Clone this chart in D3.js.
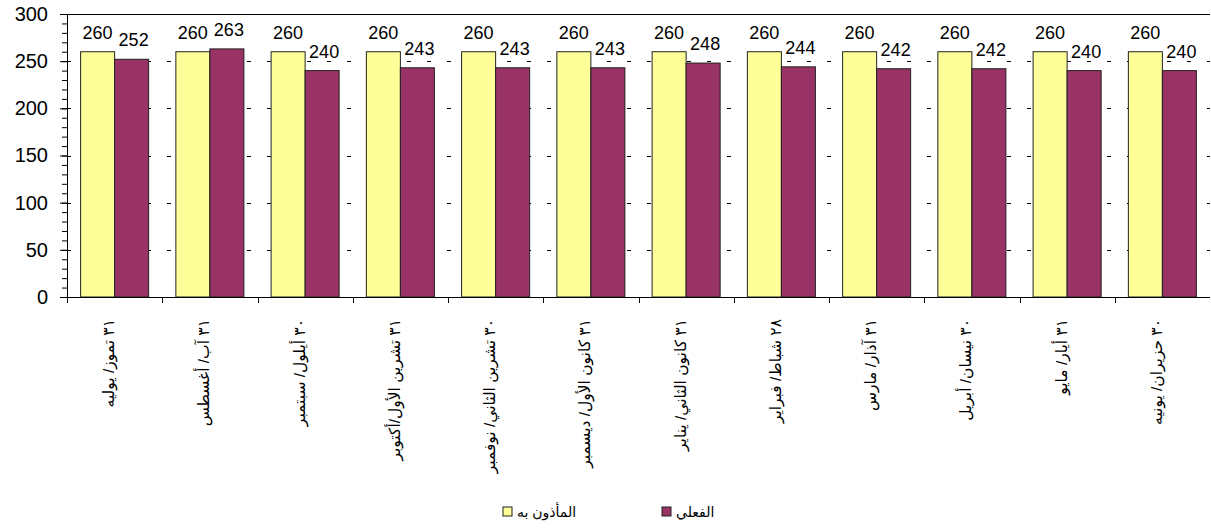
<!DOCTYPE html>
<html>
<head>
<meta charset="utf-8">
<script src="https://cdn.jsdelivr.net/npm/d3@7"></script>
<style>
    body { margin: 0; background: #fff; }
    svg { display: block; font-family: Arial, "Liberation Sans", "DejaVu Sans", sans-serif; }
    .valueLabel { font-size: 18px; fill: #000; }
    .yLabel { font-size: 20px; fill: #000; }
    .monthLabel { font-size: 15.5px; fill: #000; }
    .legendText { font-size: 14px; fill: #000; }
</style>
</head>
<body>
<div id="chart"></div>
<script>
// months (Arabic, with Arabic-Indic day counts)
var months = [
    "٣١ تموز/ يوليه",
    "٣١ آب/ أغسطس",
    "٣٠ أيلول/ سبتمبر",
    "٣١ تشرين الأول/أكتوبر",
    "٣٠ تشرين الثاني/ نوفمبر",
    "٣١ كانون الأول/ ديسمبر",
    "٣١ كانون الثاني/ يناير",
    "٢٨ شباط/ فبراير",
    "٣١ آذار/ مارس",
    "٣٠ نيسان/ أبريل",
    "٣١ أيار/ مايو",
    "٣٠ حزيران/ يونيه"
];
var authorized = [260, 260, 260, 260, 260, 260, 260, 260, 260, 260, 260, 260];
var actual = [252, 263, 240, 243, 243, 243, 248, 244, 242, 242, 240, 240];
var seriesNames = ["المأذون به", "الفعلي"];
var yTicks = [0, 50, 100, 150, 200, 250, 300];

/**
 * Constructor for the authorized / actual bar chart
 */
function StaffChart(){
    var self = this;
    self.init();
};

/**
 * Sets up svg and scales
 */
StaffChart.prototype.init = function(){
    var self = this;
    self.width = 1211;
    self.height = 529;
    self.plot = {left: 67, right: 1210, top: 14, bottom: 297};
    self.colors = ["#FFFF99", "#993366"];

    self.svg = d3.select("#chart").append("svg")
        .attr("width", self.width)
        .attr("height", self.height);

    self.xScale = d3.scaleBand()
        .domain(months)
        .range([self.plot.left, self.plot.right])
        .padding(0);

    // two bars per month, gap between groups = 0.8 bar widths
    var bw = self.xScale.bandwidth();
    var barW = bw / 2.8;
    self.x1 = d3.scaleBand()
        .domain([0, 1])
        .range([barW * 0.4, bw - barW * 0.4])
        .padding(0);

    self.yScale = d3.scaleLinear()
        .domain([0, 300])
        .range([self.plot.bottom, self.plot.top]);
};

/**
 * Draws everything
 */
StaffChart.prototype.update = function(){
    var self = this;
    var svg = self.svg, p = self.plot;

    // dashed gridlines
    svg.selectAll(".grid").data(yTicks.filter(function(d){ return d > 0 && d < 300; }))
        .enter().append("line")
        .attr("class", "grid")
        .attr("x1", p.left).attr("x2", p.right)
        .attr("y1", function(d){ return Math.round(self.yScale(d)) + 0.5; })
        .attr("y2", function(d){ return Math.round(self.yScale(d)) + 0.5; })
        .attr("stroke", "#000")
        .attr("stroke-dasharray", "4,16");

    // top border
    svg.append("line")
        .attr("x1", p.left - 7).attr("x2", p.right)
        .attr("y1", Math.round(self.yScale(300)) + 0.5).attr("y2", Math.round(self.yScale(300)) + 0.5)
        .attr("stroke", "#000");

    // bars
    var rows = months.map(function(m, i){ return {month: m, values: [authorized[i], actual[i]]}; });

    var groups = svg.selectAll(".group").data(rows)
        .enter().append("g")
        .attr("class", "group")
        .attr("transform", function(d){ return "translate(" + self.xScale(d.month) + ",0)"; });

    var bars = groups.selectAll("g.bar").data(function(d){
            return d.values.map(function(v, k){ return {k: k, v: v}; });
        })
        .enter().append("g").attr("class", "bar");

    bars.append("rect")
        .attr("x", function(d){ return self.x1(d.k); })
        .attr("y", function(d){ return self.yScale(d.v); })
        .attr("width", self.x1.bandwidth())
        .attr("height", function(d){ return self.yScale(0) - self.yScale(d.v); })
        .attr("fill", function(d){ return self.colors[d.k]; })
        .attr("stroke", "#222")
        .attr("stroke-width", 1);

    bars.append("text")
        .attr("class", "valueLabel")
        .attr("x", function(d){ return self.x1(d.k) + self.x1.bandwidth() / 2 + d.k * 2; })
        .attr("y", function(d){ return self.yScale(d.v) - 13; })
        .attr("text-anchor", "middle")
        .text(function(d){ return d.v; });

    // y axis with minor ticks
    var yAxis = d3.axisLeft(self.yScale).tickValues(yTicks).tickSize(7).tickPadding(12);
    var yg = svg.append("g")
        .attr("transform", "translate(" + p.left + ",0)")
        .call(yAxis);
    yg.select(".domain").remove();
    yg.selectAll("text").attr("class", "yLabel").attr("font-family", null).attr("font-size", null);
    yg.selectAll("line").attr("stroke", "#000");

    svg.append("g")
        .attr("transform", "translate(" + p.left + ",0)")
        .call(d3.axisLeft(self.yScale).tickValues(d3.range(0, 301, 10)).tickSize(5).tickFormat(""))
        .call(function(g){ g.select(".domain").remove(); g.selectAll("line").attr("stroke", "#000"); });

    svg.append("line")
        .attr("x1", p.left + 0.5).attr("x2", p.left + 0.5)
        .attr("y1", p.top).attr("y2", p.bottom + 6)
        .attr("stroke", "#000");

    // x axis line + separators between months
    svg.append("line")
        .attr("x1", p.left).attr("x2", p.right)
        .attr("y1", p.bottom + 0.5).attr("y2", p.bottom + 0.5)
        .attr("stroke", "#000");

    svg.selectAll(".sep").data(months)
        .enter().append("line")
        .attr("class", "sep")
        .attr("x1", function(d){ return Math.round(self.xScale(d)) + 0.5; })
        .attr("x2", function(d){ return Math.round(self.xScale(d)) + 0.5; })
        .attr("y1", p.bottom).attr("y2", p.bottom + 6)
        .attr("stroke", "#000");

    // month labels, rotated
    svg.selectAll(".monthLabel").data(months)
        .enter().append("text")
        .attr("class", "monthLabel")
        .attr("transform", function(d){
            return "translate(" + (self.xScale(d) + self.xScale.bandwidth() / 2 - 6) + "," + 319 + ") rotate(-90)";
        })
        .attr("dy", "0.35em")
        .attr("text-anchor", "end")
        .text(function(d){ return d; });

    // legend
    var legend = [{x: 503, k: 0}, {x: 662, k: 1}];
    var lg = svg.selectAll(".legend").data(legend)
        .enter().append("g")
        .attr("class", "legend")
        .attr("transform", function(d){ return "translate(" + d.x + ",507)"; });
    lg.append("rect")
        .attr("width", 9).attr("height", 9)
        .attr("fill", function(d){ return self.colors[d.k]; })
        .attr("stroke", "#222");
    lg.append("text")
        .attr("class", "legendText")
        .attr("x", 14).attr("y", 5)
        .attr("dy", "0.35em")
        .text(function(d){ return seriesNames[d.k]; });
};

var chart = new StaffChart();
chart.update();
</script>
</body>
</html>
